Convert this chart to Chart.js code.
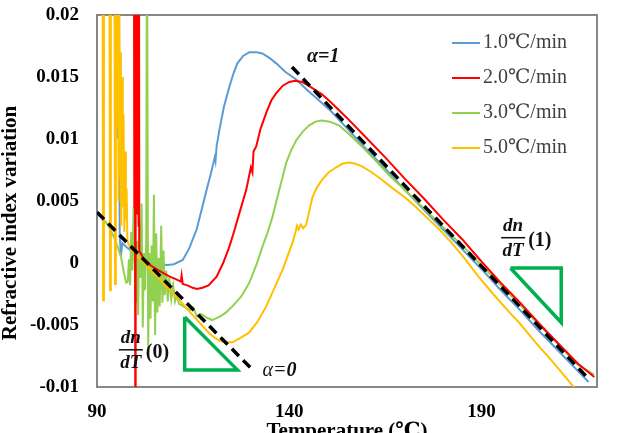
<!DOCTYPE html>
<html>
<head>
<meta charset="utf-8">
<script src="https://cdn.jsdelivr.net/npm/chart.js@4.4.1/dist/chart.umd.min.js"></script>
<style>
  html, body { margin: 0; padding: 0; background: #fff; }
</style>
</head>
<body>
<canvas id="myChart" width="621" height="433"></canvas>
<script>

const seriesNames = ["1.0℃/min", "2.0℃/min", "3.0℃/min", "5.0℃/min"];
const seriesColors = ["#5B9BD5", "#FF0000", "#92D050", "#FFC000"];

const xTicks = [90, 140, 190];
const yTicks = [-0.01, -0.005, 0, 0.005, 0.01, 0.015, 0.02];
const yTickLabels = ["-0.01", "-0.005", "0", "0.005", "0.01", "0.015", "0.02"];

// [temperature, refractive index variation]
const rate1 = [
  [95.0, 0.03], [95.3, 0.0100], [95.6, 0.03], [95.9, 0.0024], [96.2, 0.0006], [96.6, 0.0016],
  [98, 0.0012], [100, 0.0008], [102, 0.0004], [104, 0.0001], [106, -0.0001], [108.4, -0.00016],
  [110, -0.0001], [112.3, 0.00024], [114, 0.0012], [115.9, 0.0027], [117.2, 0.0043], [118.5, 0.0059],
  [119.6, 0.0072], [120.6, 0.0085], [120.8, 0.0082], [121.1, 0.0094], [121.8, 0.0107], [123, 0.0126],
  [124.4, 0.0142], [125.5, 0.0153], [126.5, 0.0161], [128, 0.0167], [129.6, 0.0170], [131.5, 0.0170],
  [133, 0.0169], [135, 0.0165], [136.6, 0.0161], [139, 0.0154], [141.8, 0.0148], [144.5, 0.0140],
  [147, 0.0133], [151, 0.0122], [155.5, 0.0107], [160, 0.0092], [165, 0.0076], [170, 0.0059],
  [175, 0.0043], [180, 0.0027], [185, 0.0011], [190, -0.0005], [195, -0.0022], [200, -0.0038],
  [205, -0.0055], [210, -0.0071], [215, -0.0087], [217.8, -0.0096]
];

const rate2 = [
  [99.6, 0.03], [99.7, 0.0045], [99.8, 0.03], [99.95, -0.012], [100.05, 0.03], [100.2, 0.0050],
  [100.35, 0.03], [100.5, 0.0040], [100.65, 0.03], [100.8, 0.0030], [100.9, 0.03], [101.0, 0.0010],
  [102, 0.0004], [104, -0.0002], [106, -0.0006], [108.9, -0.0011], [110.5, -0.0013], [111.8, -0.0015],
  [112.0, -0.0010], [112.3, -0.0017], [113.5, -0.0018], [114.9, -0.0020], [116, -0.0021], [117.4, -0.0020],
  [119, -0.0018], [121.1, -0.0011], [122.8, 0.0000], [124.4, 0.0013], [125.8, 0.0027], [127, 0.0040],
  [128.8, 0.0059], [130, 0.0077], [130.4, 0.0073], [130.7, 0.0090], [131.4, 0.0094], [132.5, 0.0108],
  [134, 0.0121], [135.3, 0.0131], [136.6, 0.0137], [138.3, 0.0143], [140, 0.0146], [141.5, 0.0147],
  [143.3, 0.0146], [145.5, 0.0142], [148.5, 0.0136], [151, 0.0129], [155, 0.0117], [160, 0.0101],
  [165, 0.0085], [170, 0.0068], [175, 0.0052], [180, 0.0035], [185, 0.0019], [190, 0.0001],
  [195, -0.0016], [200, -0.0032], [205, -0.0049], [210, -0.0065], [215, -0.0081], [219.3, -0.0092]
];

const rate3 = [
  [90.3, 0.0040], [91.5, 0.0036], [93, 0.0030], [94.5, 0.0020], [95.5, 0.0012], [96.3, 0.0004],
  [97.0, -0.0008], [97.6, -0.0016], [98.0, -0.0015], [98.3, 0.0003], [98.6, -0.0018], [98.9, 0.0025],
  [99.2, -0.0006], [99.5, 0.0045], [99.8, 0.0008], [100.1, -0.0032], [100.4, 0.0018], [100.7, -0.0042],
  [101.0, 0.0032], [101.3, -0.0012], [101.6, 0.0048], [101.9, -0.0052], [102.2, 0.0008], [102.5, -0.0022],
  [102.8, 0.0020], [103.0, 0.03], [103.3, -0.0070], [103.6, 0.0008], [103.9, -0.0045], [104.2, 0.0014],
  [104.5, -0.0031], [104.8, 0.0055], [105.1, -0.0058], [105.4, 0.0024], [105.7, -0.0040], [106.0, 0.0004],
  [106.3, -0.0035], [106.7, 0.0030], [107.0, -0.0032], [107.3, 0.0010], [107.6, -0.0026], [108.0, -0.0006],
  [108.4, -0.0031], [108.8, -0.0012], [109.3, -0.0029], [109.8, -0.0018], [110.3, -0.0031], [110.8, -0.0026],
  [111.3, -0.0033], [112, -0.0034], [113, -0.0036], [114.1, -0.0038], [115, -0.0036], [116, -0.0043],
  [117, -0.0041], [118.5, -0.0044], [120, -0.0046], [122, -0.0043], [123.5, -0.0040], [125.2, -0.0035],
  [127.5, -0.0027], [129.6, -0.0016], [131.5, -0.0001], [133, 0.0013], [134.4, 0.0025], [135.6, 0.0037],
  [136.5, 0.0048], [137.4, 0.0059], [138.3, 0.0070], [139.2, 0.0081], [140.5, 0.0091], [141.8, 0.0099],
  [143.5, 0.0106], [145.2, 0.0111], [146.8, 0.0114], [148.5, 0.0115], [150.5, 0.0114], [152.9, 0.0111],
  [155.5, 0.0104], [158.9, 0.0094], [162, 0.0084], [165.9, 0.0071], [170, 0.0059], [175, 0.0044],
  [180.6, 0.0027], [185, 0.0014], [190, -0.0002], [195, -0.0018], [200, -0.0034], [205, -0.0050],
  [210, -0.0066], [215, -0.0082], [219.2, -0.0090]
];

const rate5 = [
  [91.4, 0.03], [91.6, -0.0030], [91.8, 0.03], [93.2, 0.03], [93.4, -0.0022], [93.6, 0.03],
  [94.5, 0.03], [94.7, -0.0017], [94.9, 0.03], [95.2, 0.0110], [95.4, 0.03], [95.6, 0.0050],
  [95.8, 0.022], [96.0, 0.0070], [96.2, 0.017], [96.3, 0.0030], [96.5, 0.0150], [96.7, 0.0045],
  [96.9, 0.0120], [97.1, 0.0025], [97.3, 0.0090], [97.5, 0.0035], [97.7, 0.0060], [97.9, 0.0018],
  [98.2, 0.0015], [100, 0.0007], [102, 0.0001], [104, -0.0006], [106, -0.0012], [108, -0.0019],
  [110, -0.0025], [112, -0.0032], [114, -0.0039], [115.5, -0.0044], [117.5, -0.0051], [119, -0.0056],
  [120.5, -0.0060], [122, -0.0063], [123.5, -0.0064], [125.2, -0.0064], [127, -0.0061], [129.6, -0.0056],
  [131.8, -0.0047], [134, -0.0035], [136, -0.0021], [138.2, -0.0006], [139.6, 0.0006], [140.8, 0.0016],
  [141.7, 0.0026], [142.0, 0.0030], [142.4, 0.0027], [143.0, 0.0031], [143.6, 0.0028], [144.4, 0.0031],
  [145.2, 0.0042], [146, 0.0053], [147.2, 0.0061], [148.5, 0.0067], [150.2, 0.0073], [152.1, 0.0077],
  [153.8, 0.0080], [155.5, 0.0081], [157.2, 0.0080], [158.9, 0.0078], [161, 0.0074], [163.3, 0.0069],
  [167, 0.0060], [170, 0.0053], [173, 0.0045], [176, 0.0036], [179, 0.0027], [182, 0.0017],
  [185.5, 0.0004], [189.2, -0.0011], [193, -0.0025], [197, -0.0039], [200, -0.0049], [204, -0.0064],
  [208, -0.0078], [211, -0.0089], [214.5, -0.0102]
];

const alpha1 = [[140.7, 0.0158], [217.7, -0.0093]];
const alpha0 = [[90, 0.0041], [130.4, -0.0086]];
const slope0 = [[112.8, -0.00435], [112.8, -0.00862], [126.5, -0.00862], [112.8, -0.00435]];
const slope1 = [[197.5, -0.0004], [210.7, -0.0004], [210.7, -0.0048], [197.5, -0.0004]];

const serif = "'Liberation Serif', 'DejaVu Serif', 'Noto Sans CJK JP', serif";

function pts(arr) {
  return arr.map(p => ({ x: p[0], y: p[1] }));
}

function line(data, color, width, extra) {
  return Object.assign({
    data: pts(data),
    borderColor: color,
    borderWidth: width,
    pointRadius: 0,
    tension: 0,
    fill: false,
    clip: 0
  }, extra || {});
}

const datasets = [
  line(alpha1, "#000", 3.5, { borderDash: [10, 6] }),
  line(alpha0, "#000", 3.5, { borderDash: [10, 6] }),
  line(slope0, "#00B050", 3.5, { borderJoinStyle: "miter" }),
  line(slope1, "#00B050", 3.5, { borderJoinStyle: "miter" }),
  line(rate2, seriesColors[1], 2),
  line(rate5, seriesColors[3], 2),
  line(rate3, seriesColors[2], 2),
  line(rate1, seriesColors[0], 2)
];

function fraction(ctx, x, y, arg) {
  ctx.fillStyle = "#111";
  ctx.font = "bold italic 19px " + serif;
  ctx.textAlign = "center";
  ctx.textBaseline = "middle";
  ctx.fillText("dn", x, y - 12);
  ctx.fillText("dT", x, y + 13);
  ctx.fillRect(x - 12, y - 1, 24, 1.5);
  ctx.font = "bold 20px " + serif;
  ctx.textAlign = "left";
  ctx.fillText(arg, x + 15, y + 3);
}

const notesPlugin = {
  id: "notes",
  beforeDatasetsDraw(chart) {
    const { ctx, chartArea: a } = chart;
    ctx.save();
    ctx.strokeStyle = "#868686";
    ctx.lineWidth = 2;
    ctx.strokeRect(a.left, a.top, a.right - a.left, a.bottom - a.top);
    ctx.restore();
  },
  afterDraw(chart) {
    const { ctx, chartArea: a } = chart;
    const xs = chart.scales.x, ys = chart.scales.y;
    ctx.save();

    // y axis title
    ctx.save();
    ctx.translate(11, (a.top + a.bottom) / 2 + 22);
    ctx.rotate(-Math.PI / 2);
    ctx.fillStyle = "#000";
    ctx.font = "bold 21px " + serif;
    ctx.textAlign = "center";
    ctx.textBaseline = "middle";
    ctx.fillText("Refractive index variation", 0, 0);
    ctx.restore();

    // legend
    ctx.font = "20px " + serif;
    ctx.textBaseline = "middle";
    ctx.textAlign = "left";
    seriesNames.forEach((name, i) => {
      const y = a.top + 28 + i * 35;
      ctx.strokeStyle = seriesColors[i];
      ctx.lineWidth = 2;
      ctx.beginPath();
      ctx.moveTo(a.right - 145, y);
      ctx.lineTo(a.right - 117, y);
      ctx.stroke();
      ctx.fillStyle = "#404040";
      ctx.fillText(name, a.right - 114, y);
    });

    // alpha labels
    ctx.fillStyle = "#111";
    ctx.font = "bold italic 20px " + serif;
    ctx.fillText("α=1", xs.getPixelForValue(144.6), ys.getPixelForValue(0.0166));
    const ax = xs.getPixelForValue(133.0), ay = ys.getPixelForValue(-0.0087);
    ctx.font = "italic 20px " + serif;
    ctx.fillText("α=", ax, ay);
    const w = ctx.measureText("α=").width;
    ctx.font = "bold italic 20px " + serif;
    ctx.fillText("0", ax + w, ay);

    // slope labels
    fraction(ctx, xs.getPixelForValue(98.8), ys.getPixelForValue(-0.00702), "(0)");
    fraction(ctx, xs.getPixelForValue(198.2), ys.getPixelForValue(0.00202), "(1)");

    ctx.restore();
  }
};

new Chart("myChart", {
  type: "line",
  data: { datasets: datasets },
  plugins: [notesPlugin],
  options: {
    responsive: false,
    animation: false,
    layout: { padding: { top: 15, right: 24, left: 0, bottom: 0 } },
    plugins: {
      legend: { display: false },
      tooltip: { enabled: false }
    },
    scales: {
      x: {
        type: "linear",
        min: 90,
        max: 220,
        grid: { display: false, drawTicks: false },
        border: { display: false },
        afterBuildTicks: s => { s.ticks = xTicks.map(v => ({ value: v })); },
        afterFit: s => { s.height = 46; },
        ticks: {
          padding: 14,
          color: "#000",
          maxRotation: 0,
          font: { family: serif, size: 19, weight: "bold" }
        },
        title: {
          display: true,
          text: "Temperature (℃)",
          color: "#000",
          padding: { top: 0, bottom: -11 },
          font: { family: serif, size: 21, weight: "bold" }
        }
      },
      y: {
        min: -0.01,
        max: 0.02,
        grid: { display: false, drawTicks: false },
        border: { display: false },
        afterBuildTicks: s => { s.ticks = yTicks.map(v => ({ value: v })); },
        afterFit: s => {
          s.width = 97;
          s.paddingTop = 0;
          s.paddingBottom = 0;
        },
        ticks: {
          padding: 18,
          color: "#000",
          font: { family: serif, size: 19, weight: "bold" },
          callback: (v, i) => yTickLabels[i]
        }
      }
    }
  }
});
</script>
</body>
</html>
